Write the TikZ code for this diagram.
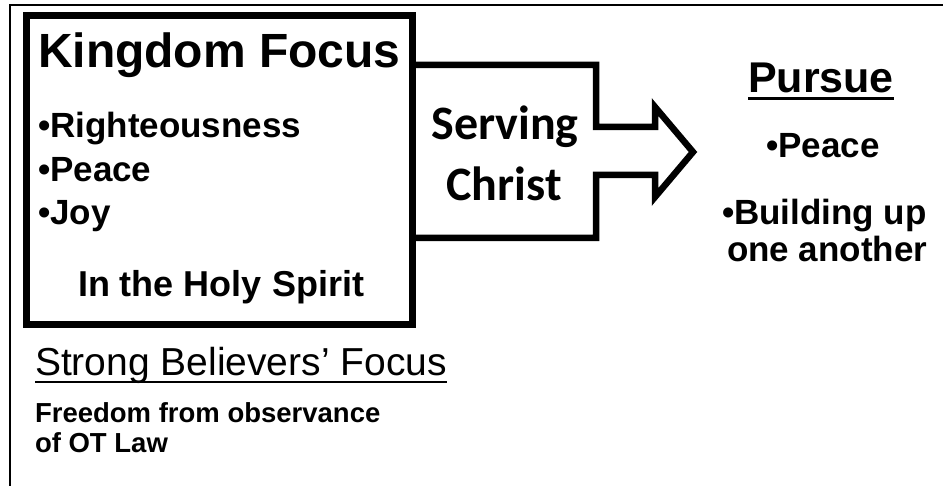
\documentclass[tikz,border=0pt]{standalone}
\usepackage{fontspec}
\setmainfont{Liberation Sans}
\newfontfamily\carlitofont{Carlito}
\usetikzlibrary{calc}
\newcommand{\fs}[1]{\fontsize{#1}{#1}\selectfont}
\begin{document}
\begin{tikzpicture}[x=1pt,y=-1pt,
  txt/.style={inner sep=0pt,outer sep=0pt,text=black},
  ul/.style={line width=3pt}]
\useasboundingbox (0,0) rectangle (943,486);
% outer frame (left and top only)
\draw[line width=2pt] (10,486) -- (10,5.5) -- (943,5.5);
% kingdom box
\node[draw,line width=7pt,minimum width=386pt,minimum height=309pt,anchor=north west,inner sep=0pt,outer sep=0pt] (kbox) at (26,16) {};
% arrow
\coordinate (a1) at (412,65);
\coordinate (a2) at (412,238);
\draw[line width=6.5pt,line join=miter,miter limit=3]
  (a1) -- (596,65) -- (596,127) -- (655,127) -- (655,107) -- (693,152)
  -- (655,197) -- (655,175) -- (596,175) -- (596,238) -- (a2);
% box text
\node[txt,anchor=base west] (kf) at (38,68) {\fs{48}\bfseries Kingdom Focus};
\node[txt,anchor=base west] (r1) at (38,138) {\fs{35}\bfseries •Righteousness};
\node[txt,anchor=base west] (r2) at (38,182) {\fs{35}\bfseries •Peace};
\node[txt,anchor=base west] (r3) at (38,225) {\fs{35}\bfseries •Joy};
\node[txt,anchor=base west] (hs) at (78,297) {\fs{36}\bfseries In the Holy Spirit};
% serving christ
\node[txt,anchor=base] (sv) at (505,140) {\fs{48}\carlitofont\bfseries Serving};
\node[txt,anchor=base] (ch) at (504,201) {\fs{48}\carlitofont\bfseries Christ};
% pursue
\node[txt,anchor=base] (pu) at (821,93) {\fs{43}\bfseries Pursue};
\draw[ul] ([yshift=-6pt]pu.base west) -- ([yshift=-6pt]pu.base east);
\node[txt,anchor=base] (pp) at (823,158) {\fs{35}\bfseries •Peace};
\node[txt,anchor=base west] (bu) at (722,225) {\fs{35}\bfseries •Building up};
\node[txt,anchor=base west] (oa) at (727,262) {\fs{35}\bfseries one another};
% strong believers
\node[txt,anchor=base west] (sb) at (35,376) {\fs{39}Strong Believers’ Focus};
\draw[line width=2.5pt] ([yshift=-6pt]sb.base west) -- ([yshift=-6pt]sb.base east);
\node[txt,anchor=base west] (fr) at (35,423) {\fs{27.5}\bfseries Freedom from observance};
\node[txt,anchor=base west] (ot) at (35,453) {\fs{27.5}\bfseries of OT Law};
\end{tikzpicture}
\end{document}
